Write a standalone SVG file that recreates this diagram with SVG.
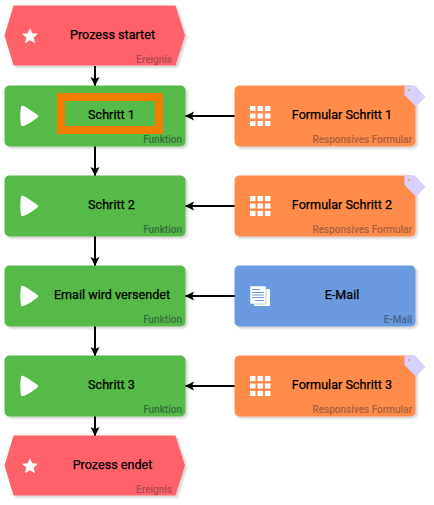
<svg xmlns="http://www.w3.org/2000/svg" width="434" height="505" viewBox="0 0 434 505">
<defs>
<filter id="sh" x="-5%" y="-10%" width="112%" height="125%"><feDropShadow dx="2" dy="2" stdDeviation="1" flood-color="#000" flood-opacity="0.18"/></filter>
<marker id="arr" markerUnits="userSpaceOnUse" markerWidth="10" markerHeight="10" refX="9" refY="5" orient="auto"><path d="M0 0.500L9 5L0 9.500L2 5Z" fill="#000"/></marker>
<path id="star" d="M0-8L2.300-2.700L8-2.200L3.700 1.500L5 7.200L0 4.200L-5 7.200L-3.700 1.500L-8-2.200L-2.300-2.700Z" fill="#fff"/>
<path id="play" d="M-9-9C-9-10.300 -7.500-10.500 -6.500-10C-2-8 3-4 7.500-1C8.500 0 8.500 0.500 7.500 1.500C3 5 -2 8.500 -6.500 10C-7.500 10.300 -9 10 -9 9C-10 3 -10-3 -9-9Z" fill="#fff"/>
<g id="grid" fill="#fff"><rect x="0" y="0" width="5.500" height="5"/><rect x="7.500" y="0" width="5.500" height="5"/><rect x="15" y="0" width="5.500" height="5"/><rect x="0" y="7.500" width="5.500" height="5"/><rect x="7.500" y="7.500" width="5.500" height="5"/><rect x="15" y="7.500" width="5.500" height="5"/><rect x="0" y="15" width="5.500" height="5"/><rect x="7.500" y="15" width="5.500" height="5"/><rect x="15" y="15" width="5.500" height="5"/></g>
<g id="tag"><path d="M404.500 85.500H415L425.500 97L416 106.500L404.500 95Z" fill="#d8d0ff"/><circle cx="409" cy="90" r="1" fill="#ff8c4b"/></g>
</defs>
<style>
text{font-family:Roboto,"Liberation Sans",sans-serif}
.t{font-size:12.600px;font-weight:400;fill:#000;text-anchor:middle;stroke:#000;stroke-width:0.250px}
.s{font-size:10px;font-weight:500;text-anchor:end}
.e{fill:#ff6469;filter:url(#sh)}
.f{fill:#57ba48;filter:url(#sh)}
.o{fill:#ff8c4b;filter:url(#sh)}
.m{fill:#6a9ae0;filter:url(#sh)}
.c{stroke:#000;stroke-width:2;fill:none;marker-end:url(#arr)}
</style>
<g id="connectors">
<path class="c" d="M95 66V86"/>
<path class="c" d="M95 146V176"/>
<path class="c" d="M95 236V266"/>
<path class="c" d="M95 326V356"/>
<path class="c" d="M95 416V436"/>
<path class="c" d="M235 116H185"/>
<path class="c" d="M235 206H185"/>
<path class="c" d="M235 296H185"/>
<path class="c" d="M235 386H185"/>
</g>
<g id="n1"><path class="e" d="M13.500 5.500H175.500L185 35.500L175.500 65.500H13.500L4.500 35.500Z"/><use href="#star" x="30" y="36"/><text class="t" x="112.500" y="39">Prozess startet</text><text class="s" x="172" y="63" fill="#b0474f">Ereignis</text></g>
<g id="n2"><rect class="f" x="4.500" y="85.500" width="181" height="61" rx="5"/><rect x="61" y="97" width="98" height="33" fill="none" stroke="#f07d00" stroke-width="8"/><use href="#play" x="30" y="116"/><text class="t" x="111.500" y="119">Schritt 1</text><text class="s" x="182" y="143" fill="#35703a">Funktion</text></g>
<g id="n3"><rect class="f" x="4.500" y="175.500" width="181" height="61" rx="5"/><use href="#play" x="30" y="206"/><text class="t" x="111.500" y="209">Schritt 2</text><text class="s" x="182" y="233" fill="#35703a">Funktion</text></g>
<g id="n4"><rect class="f" x="4.500" y="265.500" width="181" height="61" rx="5"/><use href="#play" x="30" y="296"/><text class="t" x="112" y="299">Email wird versendet</text><text class="s" x="182" y="323" fill="#35703a">Funktion</text></g>
<g id="n5"><rect class="f" x="4.500" y="355.500" width="181" height="61" rx="5"/><use href="#play" x="30" y="386"/><text class="t" x="111.500" y="389">Schritt 3</text><text class="s" x="182" y="413" fill="#35703a">Funktion</text></g>
<g id="n6"><path class="e" d="M13.500 435.500H175.500L185 465.500L175.500 495.500H13.500L4.500 465.500Z"/><use href="#star" x="30" y="466"/><text class="t" x="112.500" y="469">Prozess endet</text><text class="s" x="172" y="493" fill="#b0474f">Ereignis</text></g>
<g id="f1"><rect class="o" x="234.500" y="85.500" width="181" height="61" rx="5"/><use href="#tag"/><use href="#grid" x="250" y="106"/><text class="t" x="342" y="119">Formular Schritt 1</text><text class="s" x="412" y="143" fill="#a8613c">Responsives Formular</text></g>
<g id="f2"><rect class="o" x="234.500" y="175.500" width="181" height="61" rx="5"/><use href="#tag" y="90"/><use href="#grid" x="250" y="196"/><text class="t" x="342" y="209">Formular Schritt 2</text><text class="s" x="412" y="233" fill="#a8613c">Responsives Formular</text></g>
<g id="m1"><rect class="m" x="234.500" y="265.500" width="181" height="61" rx="5"/><g><rect x="254" y="289" width="16" height="17" rx="1" fill="#fff"/><rect x="250" y="286" width="16" height="18" rx="1" fill="#fff" stroke="#6a9ae0" stroke-width="0.500"/><path d="M252 289.500H260M252 292.500H264M252 295H264M252 297.500H264M255 300.500H264" stroke="#6a9ae0" stroke-width="1"/></g><text class="t" x="342" y="299">E-Mail</text><text class="s" x="412" y="323" fill="#46648f">E-Mail</text></g>
<g id="f3"><rect class="o" x="234.500" y="355.500" width="181" height="61" rx="5"/><use href="#tag" y="270"/><use href="#grid" x="250" y="376"/><text class="t" x="342" y="389">Formular Schritt 3</text><text class="s" x="412" y="413" fill="#a8613c">Responsives Formular</text></g>
</svg>
